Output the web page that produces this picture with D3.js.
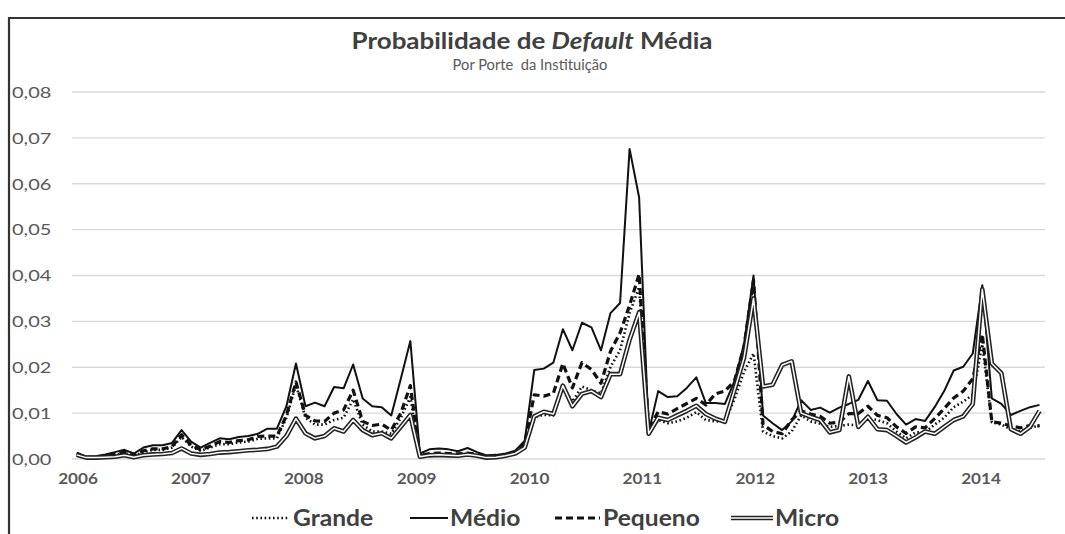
<!DOCTYPE html>
<html><head><meta charset="utf-8">
<script src="https://cdn.jsdelivr.net/npm/d3@7/dist/d3.min.js"></script>
<style>
body{margin:0;background:#fff;}
svg{display:block;font-family:Lato,"Open Sans",sans-serif;}
</style>
</head><body>
<svg id="c" width="1065" height="534"></svg>
<script>
const yearLabels = [2006,2007,2008,2009,2010,2011,2012,2013,2014];
const yTicks = [0,0.01,0.02,0.03,0.04,0.05,0.06,0.07,0.08];
const seriesNames = ["Grande","Médio","Pequeno","Micro"];

// monthly values, Jan 2006 onward
const grande = [0.0010,0.0003,0.0003,0.0006,0.0009,0.0013,0.0007,0.0015,0.0020,0.0020,0.0025,0.0048,
0.0027,0.0018,0.0025,0.0032,0.0032,0.0036,0.0038,0.0044,0.0045,0.0045,0.0090,0.0162,
0.0090,0.0075,0.0075,0.0085,0.0090,0.0130,0.0075,0.0060,0.0060,0.0055,0.0090,0.0135,
0.0006,0.0009,0.0010,0.0010,0.0008,0.0011,0.0008,0.0004,0.0005,0.0008,0.0013,0.0030,
0.0092,0.0096,0.0095,0.0158,0.0125,0.0158,0.0150,0.0143,0.0201,0.0237,0.0318,0.0375,
0.0055,0.0085,0.0078,0.0082,0.0090,0.0102,0.0085,0.0082,0.0082,0.0130,0.0190,0.0230,
0.0060,0.0050,0.0045,0.0060,0.0095,0.0082,0.0077,0.0070,0.0072,0.0075,0.0073,0.0088,
0.0085,0.0078,0.0060,0.0045,0.0058,0.0058,0.0075,0.0090,0.0113,0.0125,0.0140,0.0250,
0.0080,0.0075,0.0065,0.0060,0.0068,0.0073];

const medio = [0.0014,0.0005,0.0006,0.0010,0.0015,0.0020,0.0012,0.0025,0.0030,0.0030,0.0035,0.0063,
0.0038,0.0025,0.0035,0.0045,0.0043,0.0048,0.0050,0.0055,0.0066,0.0066,0.0115,0.0208,
0.0115,0.0123,0.0115,0.0157,0.0154,0.0206,0.0132,0.0115,0.0113,0.0095,0.0175,0.0257,
0.0012,0.0021,0.0023,0.0021,0.0017,0.0024,0.0015,0.0008,0.0009,0.0012,0.0018,0.0040,
0.0194,0.0197,0.0210,0.0283,0.0237,0.0297,0.0287,0.0237,0.0318,0.0340,0.0676,0.0570,
0.0058,0.0148,0.0135,0.0137,0.0155,0.0178,0.0122,0.0122,0.0120,0.0170,0.0250,0.0400,
0.0095,0.0078,0.0063,0.0082,0.0128,0.0107,0.0112,0.0101,0.0112,0.0120,0.0129,0.0170,
0.0128,0.0127,0.0098,0.0075,0.0087,0.0083,0.0113,0.0148,0.0193,0.0201,0.0230,0.0379,
0.0132,0.0120,0.0096,0.0105,0.0113,0.0118];

const pequeno = [0.0012,0.0003,0.0004,0.0007,0.0010,0.0015,0.0008,0.0018,0.0022,0.0022,0.0027,0.0053,
0.0030,0.0020,0.0028,0.0038,0.0036,0.0040,0.0042,0.0049,0.0050,0.0050,0.0095,0.0168,
0.0095,0.0083,0.0082,0.0100,0.0107,0.0150,0.0082,0.0073,0.0076,0.0063,0.0100,0.0160,
0.0008,0.0012,0.0013,0.0012,0.0011,0.0013,0.0010,0.0005,0.0006,0.0009,0.0015,0.0035,
0.0140,0.0137,0.0143,0.0208,0.0155,0.0210,0.0195,0.0165,0.0235,0.0275,0.0335,0.0403,
0.0065,0.0103,0.0098,0.0110,0.0121,0.0132,0.0118,0.0142,0.0148,0.0170,0.0245,0.0390,
0.0075,0.0060,0.0055,0.0085,0.0105,0.0098,0.0093,0.0078,0.0080,0.0099,0.0099,0.0115,
0.0095,0.0090,0.0070,0.0056,0.0070,0.0068,0.0088,0.0110,0.0133,0.0148,0.0175,0.0272,
0.0081,0.0078,0.0072,0.0068,0.0073,0.0072];

const micro = [0.0009,0.0003,0.0003,0.0004,0.0005,0.0008,0.0004,0.0008,0.0010,0.0011,0.0013,0.0023,
0.0012,0.0009,0.0011,0.0014,0.0015,0.0017,0.0019,0.0020,0.0022,0.0027,0.0050,0.0088,
0.0056,0.0045,0.0050,0.0067,0.0060,0.0085,0.0063,0.0052,0.0056,0.0045,0.0070,0.0096,
0.0005,0.0008,0.0009,0.0008,0.0007,0.0010,0.0007,0.0003,0.0004,0.0007,0.0012,0.0025,
0.0093,0.0103,0.0098,0.0160,0.0115,0.0142,0.0148,0.0135,0.0185,0.0185,0.0260,0.0320,
0.0055,0.0090,0.0085,0.0095,0.0105,0.0116,0.0098,0.0088,0.0081,0.0150,0.0220,0.0350,
0.0158,0.0162,0.0205,0.0213,0.0100,0.0092,0.0085,0.0058,0.0063,0.0180,0.0070,0.0092,
0.0065,0.0063,0.0050,0.0036,0.0047,0.0060,0.0055,0.0070,0.0085,0.0093,0.0120,0.0370,
0.0208,0.0187,0.0065,0.0055,0.0070,0.0105];

const svg = d3.select("#c");
const n = medio.length;
const x = d3.scaleLinear().domain([0, n - 1]).range([76.7, 1039.5]);
const xYear = d3.scaleLinear().domain([2006, 2014]).range([78, 981]);
const y = d3.scaleLinear().domain([0, 0.08]).range([459, 92]);
const fmt = v => d3.format(".2f")(v).replace(".", ",");

// stretched text helper (reference text is horizontally wide)
function sText(parent, px, py, sx, opts) {
  const t = parent.append("text")
    .attr("transform", `translate(${px},${py}) scale(${sx},1)`)
    .attr("text-anchor", opts.anchor || "start")
    .attr("dy", opts.dy || null)
    .attr("font-size", opts.size)
    .attr("font-weight", opts.weight || "normal")
    .attr("fill", opts.fill);
  return t;
}

// frame
svg.append("path").attr("d","M9,534 L9,18 L1065,18").attr("fill","none").attr("stroke","#333").attr("stroke-width",2.2);

// gridlines
svg.append("g").selectAll("line").data(yTicks).join("line")
  .attr("x1",72).attr("x2",1045).attr("y1",d=>y(d)).attr("y2",d=>y(d))
  .attr("stroke","#d9d9d9").attr("stroke-width",1.3);

// y labels
const yl = svg.append("g");
yTicks.forEach(v => sText(yl, 12, y(v), 1.25, {size:16, fill:"#595959", dy:"0.36em"}).text(fmt(v)));

// x labels
const xl = svg.append("g");
yearLabels.forEach(yr => sText(xl, xYear(yr), 484, 1.07, {size:16, weight:"bold", fill:"#595959", anchor:"middle"}).text(yr));

// title
const tt = sText(svg, 532, 49, 1.18, {size:22, weight:"bold", fill:"#404040", anchor:"middle"});
tt.append("tspan").text("Probabilidade de ");
tt.append("tspan").attr("font-style","italic").text("Default");
tt.append("tspan").text(" Média");
sText(svg, 530, 70, 0.98, {size:15, fill:"#595959", anchor:"middle"})
  .style("white-space","pre").text("Por Porte  da Instituição");

const line = d3.line().x((d,i)=>x(i)).y(d=>y(d));
const g = svg.append("g").attr("fill","none").attr("stroke-linejoin","round");

const styles = {
  "Grande": [{stroke:"#111", w:2.6, dash:"1.6,2.6"}],
  "Médio": [{stroke:"#111", w:2.0, dash:null}],
  "Pequeno": [{stroke:"#111", w:3.2, dash:"7,4"}],
  "Micro": [{stroke:"#222", w:4.6, dash:null},{stroke:"#fff", w:1.5, dash:null}]
};
const dataBy = {"Grande":grande,"Médio":medio,"Pequeno":pequeno,"Micro":micro};

seriesNames.forEach(name=>{
  styles[name].forEach(s=>{
    g.append("path").attr("d",line(dataBy[name]))
      .attr("stroke",s.stroke).attr("stroke-width",s.w)
      .attr("stroke-dasharray",s.dash);
  });
});

// legend
const legendItems = [
  {name:"Grande", x0:252, x1:289, tx:293},
  {name:"Médio", x0:410, x1:448, tx:450},
  {name:"Pequeno", x0:555, x1:600, tx:603},
  {name:"Micro", x0:731, x1:773, tx:775}
];
const lg = svg.append("g");
legendItems.forEach(it=>{
  styles[it.name].forEach(s=>{
    lg.append("line").attr("x1",it.x0).attr("x2",it.x1).attr("y1",518).attr("y2",518)
      .attr("stroke",s.stroke).attr("stroke-width",s.w).attr("stroke-dasharray",s.dash);
  });
  sText(lg, it.tx, 518, 1.12, {size:22, weight:"bold", fill:"#404040", dy:"0.35em"}).text(it.name);
});
</script>
</body></html>
